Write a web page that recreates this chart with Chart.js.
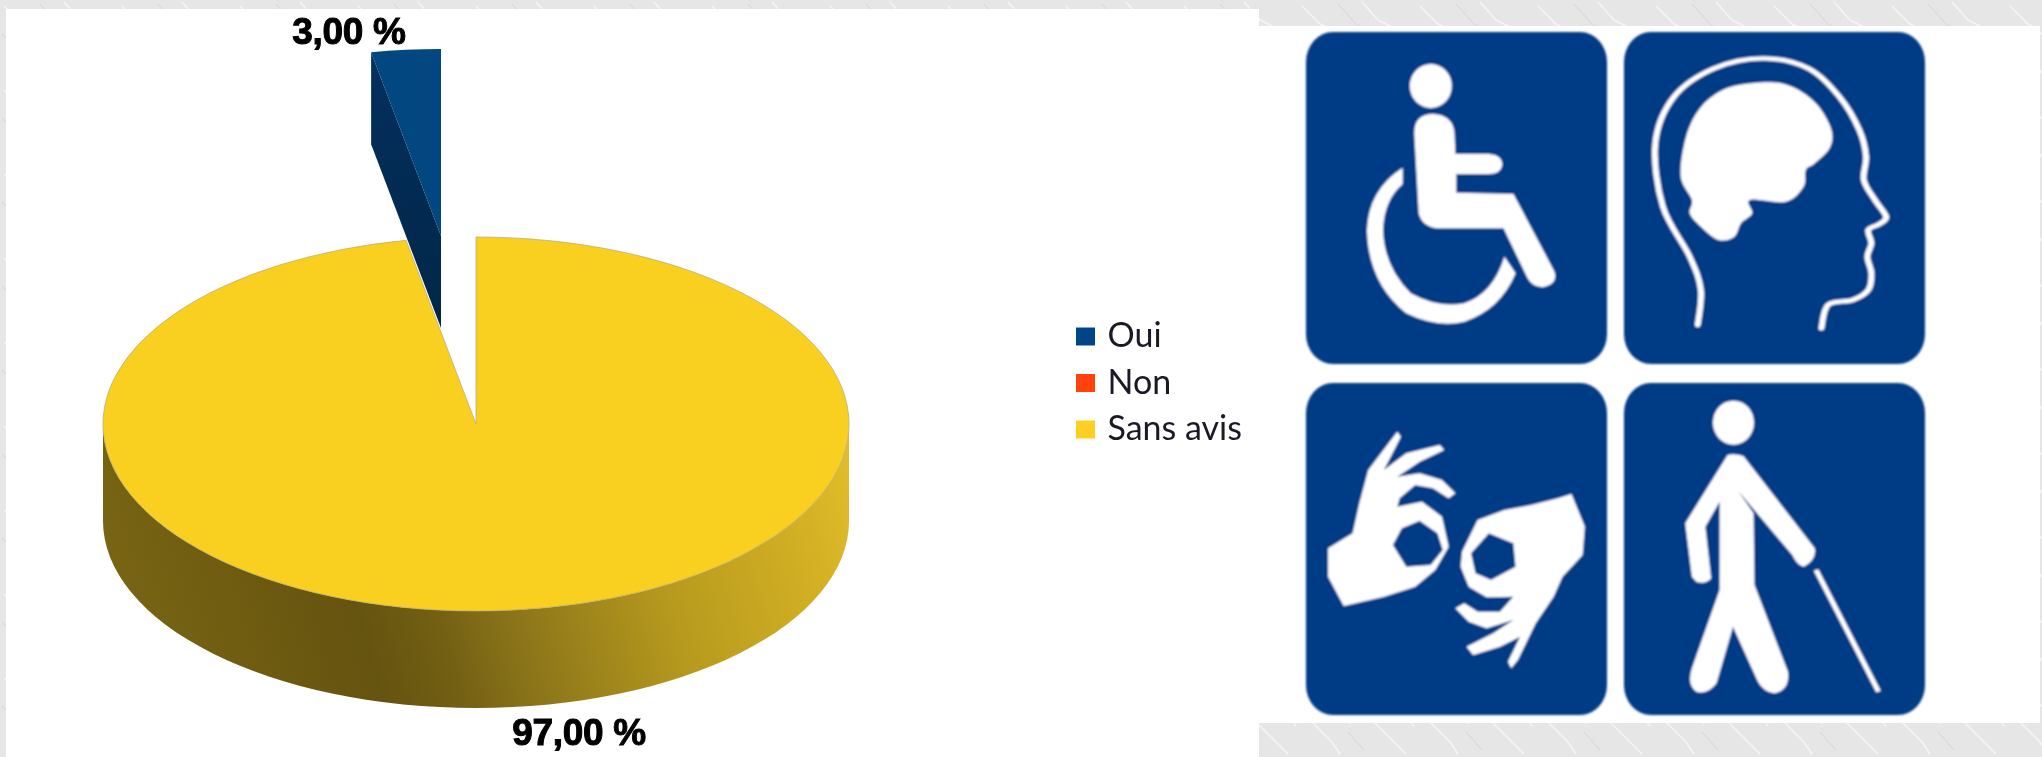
<!DOCTYPE html>
<html><head><meta charset="utf-8">
<script src="https://cdn.jsdelivr.net/npm/chart.js@4"></script>
<style>
html,body{margin:0;padding:0;background:#e6e6e6;overflow:hidden}
#stage{position:relative;width:2042px;height:757px;overflow:hidden}
#stage>*{position:absolute;left:0;top:0}
</style></head><body>
<div id="stage">
<svg id="bg" width="2042" height="757" xmlns="http://www.w3.org/2000/svg">
<defs><pattern id="tex" width="118" height="84" patternUnits="userSpaceOnUse">
<rect width="118" height="84" fill="#e6e6e6"/>
<g fill="none" stroke="#f6f6f6" stroke-width="1.6" opacity=".9">
<path d="M4 6 L22 24 L30 28 L52 52"/><path d="M64 2 L80 20 L92 26 L116 54"/><path d="M14 50 L34 70 L42 82"/><path d="M74 48 L92 66 L108 82"/>
</g>
<g fill="none" stroke="#d8d8d8" stroke-width="1.2" opacity=".8">
<path d="M40 4 L58 24 L68 30"/><path d="M96 34 L110 48"/><path d="M2 34 L18 48"/><path d="M50 60 L66 78"/>
</g></pattern>
<filter id="soft" x="-5%" y="-5%" width="110%" height="110%"><feGaussianBlur stdDeviation="0.8"/></filter></defs>
<rect width="2042" height="757" fill="url(#tex)"/>
<rect x="6" y="9" width="1253" height="748" fill="#fff"/>
<rect x="1259" y="26" width="781" height="697" fill="#fff"/>
<g id="tiles" filter="url(#soft)"></g>
</svg>
<canvas id="c" width="2042" height="757" style="width:2042px;height:757px"></canvas>
</div>
<script>
// ---- chart data ----
const categories = ['Oui', 'Non', 'Sans avis'];
const seriesValues = [3, 0, 97];
const sliceColors = ['#02477f', '#ff420e', '#f9cf20'];
const legendColors = ['#004586', '#ff420e', '#fdcf20'];

// ---- pictograms (decoration) ----
function smooth(p, close){
  let d='M'+p[0][0]+' '+p[0][1];
  const n=p.length, g=i=>close?p[(i+n)%n]:p[Math.max(0,Math.min(n-1,i))];
  for(let i=0;i<(close?n:n-1);i++){
    const a=g(i-1),b=g(i),c=g(i+1),e=g(i+2);
    d+=' C'+(b[0]+(c[0]-a[0])/6)+' '+(b[1]+(c[1]-a[1])/6)+' '+(c[0]-(e[0]-b[0])/6)+' '+(c[1]-(e[1]-b[1])/6)+' '+c[0]+' '+c[1];
  }
  return d+(close?' Z':'');
}
const profile=[[1003,975],[1010,870],[985,770],[925,620],[908,430],[950,290],[1040,205],[1150,175],[1250,205],[1320,290],[1365,390],[1380,470],[1375,540],[1400,600],[1425,650],[1410,672],[1385,690],[1392,730],[1383,770],[1392,820],[1385,870],[1350,900],[1295,915],[1280,985]];
const brain=[[1095,255],[1190,250],[1260,300],[1300,380],[1300,440],[1265,490],[1245,510],[1240,560],[1200,605],[1120,600],[1125,640],[1100,670],[1085,710],[1050,720],[1010,680],[985,640],[990,600],[965,530],[975,420],[1000,340],[1040,285]];
const B='#063a85';
document.getElementById('tiles').innerHTML=`
<rect x="1306" y="32" width="301" height="332" rx="27" ry="30" fill="${B}"/>
<rect x="1624" y="32" width="301" height="332" rx="27" ry="30" fill="${B}"/>
<rect x="1306" y="383" width="301" height="332" rx="27" ry="30" fill="${B}"/>
<rect x="1624" y="383" width="301" height="332" rx="27" ry="30" fill="${B}"/>
<g transform="translate(1250 0) scale(.4464 .3333)" fill="#fff">
<ellipse cx="405" cy="258" rx="47" ry="66"/>
<path d="M368 400 Q368 342 410 342 Q455 345 458 400 L460 462 L535 462 Q565 465 565 495 Q562 522 535 522 L462 522 L462 578 L590 582 L682 815 Q690 850 660 860 Q635 865 622 835 L568 685 L420 685 Q385 680 378 640 Z"/>
<path d="M342 503 L342 552 Q300 600 298 690 Q300 800 360 880 Q420 925 480 910 Q545 880 570 770 L595 820 Q560 930 480 965 Q420 985 350 940 Q265 850 262 690 Q265 570 342 503 Z"/>
<path d="${smooth(profile,false)}" fill="none" stroke="#fff" stroke-width="13" stroke-linecap="round"/>
<path d="${smooth(brain,true)}"/>
</g>
<g transform="translate(1250 370) scale(.4464 .3333)" fill="#fff">
<path fill-rule="evenodd" d="M175 535 L230 490 L245 400 L265 300 L330 185 L338 200 L300 300 L350 250 L425 225 L435 240 L380 275 L330 320 L380 310 L430 330 L460 370 L445 385 L410 355 L370 345 L335 385 L330 410 L385 395 L430 440 L445 530 L415 600 L370 650 L300 680 L210 708 L175 620 Z M380 452 L340 475 L320 525 L350 590 L405 585 L432 540 L420 490 Z"/>
<path fill-rule="evenodd" d="M720 372 L750 470 L745 555 L700 620 L680 680 L640 760 L600 870 L585 895 L578 875 L605 800 L560 830 L500 855 L485 830 L545 790 L590 750 L530 775 L490 755 L460 715 L480 700 L510 725 L560 725 L590 680 L530 682 L490 650 L472 590 L475 545 L510 450 L570 420 L630 405 L690 385 Z M535 490 L495 550 L505 610 L540 630 L595 590 L590 520 Z"/>
<ellipse cx="1083" cy="158" rx="46" ry="66"/>
<path d="M1070 255 Q1085 250 1105 258 L1265 535 Q1270 570 1240 590 Q1225 585 1215 555 L1095 365 L1128 430 L1130 645 L1205 905 Q1210 960 1175 970 Q1150 965 1138 935 L1082 770 L1045 940 Q1025 975 1000 965 Q978 945 990 895 L1052 660 L1052 395 L1020 470 L1033 625 Q1020 645 1000 635 L990 620 L975 460 Z"/>
<path d="M1268 600 L1408 965" stroke="#fff" stroke-width="11" fill="none"/>
</g>`;

// ---- 3D pie plugin: squashes the library's arcs and extrudes them ----
const squash = 0.5013, depth = 97, blueDepth = 92;
const explodeX = -35, explodeY = -375; // how far the Oui slice is pulled out, before squashing
const fmt = v => v.toFixed(2).replace('.', ',') + ' %';
const labelPos = {0: [349, 44], 2: [579, 745]};

const pie3d = {
  id: 'pie3d',
  afterDatasetsUpdate(chart){
    const a = chart.getDatasetMeta(0).data[0];
    a.x += explodeX; a.y += explodeY;
  },
  beforeDraw(chart){
    const l = chart.legend;
    l.left = 1068; l.right = 1262; l.top = 307; l.bottom = 757;
  },
  beforeDatasetsDraw(chart){
    const ctx = chart.ctx, arcs = chart.getDatasetMeta(0).data;
    const big = arcs[2], cx = big.x, cy = big.y, r = big.outerRadius, ry = r * squash;
    // yellow cylinder wall: front half only, so the gap of the pie stays open
    const g = ctx.createLinearGradient(104, 640, 850, 420);
    [[0,'#7a6613'],[.18,'#6f5c11'],[.32,'#655310'],[.42,'#736013'],[.52,'#8d761a'],[.72,'#b89b1e'],[.9,'#d3b024'],[1,'#e2bf2a']]
      .forEach(s => g.addColorStop(s[0], s[1]));
    ctx.save();
    ctx.fillStyle = g;
    ctx.beginPath();
    ctx.ellipse(cx, cy, r, ry, 0, 0, Math.PI, false);
    ctx.ellipse(cx, cy + depth, r, ry, 0, Math.PI, 0, true);
    ctx.closePath();
    ctx.fill();
    // blue cut face below the pulled-out slice
    const a = arcs[0];
    const px = a.x, py = cy + (a.y - cy) * squash;
    const ox = px + Math.cos(a.startAngle) * r, oy = py + Math.sin(a.startAngle) * r * squash;
    const gb = ctx.createLinearGradient(ox, oy, px, py + blueDepth);
    gb.addColorStop(0, '#04305f'); gb.addColorStop(1, '#012647');
    ctx.fillStyle = gb;
    ctx.beginPath();
    ctx.moveTo(ox, oy); ctx.lineTo(ox, oy + blueDepth);
    ctx.lineTo(px, py + blueDepth); ctx.lineTo(px, py);
    ctx.closePath();
    ctx.fill();
    ctx.restore();
    // squash what the library draws next
    ctx.save();
    ctx.translate(0, cy); ctx.scale(1, squash); ctx.translate(0, -cy);
  },
  afterDatasetsDraw(chart){
    const ctx = chart.ctx;
    ctx.restore();
    ctx.save();
    ctx.font = 'bold 37px "Liberation Sans"';
    ctx.letterSpacing = '-0.3px';
    ctx.fillStyle = '#000';
    ctx.strokeStyle = '#000';
    ctx.lineWidth = 1;
    ctx.textAlign = 'center';
    ctx.textBaseline = 'alphabetic';
    seriesValues.forEach((v, i) => {
      if (!labelPos[i]) return;
      ctx.fillText(fmt(v), labelPos[i][0], labelPos[i][1]);
      ctx.strokeText(fmt(v), labelPos[i][0], labelPos[i][1]);
    });
    ctx.restore();
  }
};

new Chart(document.getElementById('c'), {
  type: 'pie',
  data: {
    labels: categories,
    datasets: [{
      data: seriesValues,
      backgroundColor: sliceColors,
      borderColor: ['#02477f', '#ff420e', '#b8ac78'],
      borderWidth: [0, 0, 1],
      clip: false
    }]
  },
  options: {
    responsive: false,
    animation: false,
    events: [],
    rotation: -10.8,
    radius: 373,
    cutout: '0%',
    layout: { padding: { left: 0, right: 1090, top: 91, bottom: 0 } },
    plugins: {
      tooltip: { enabled: false },
      legend: {
        position: 'chartArea',
        align: 'start',
        labels: {
          boxWidth: 10, boxHeight: 9, padding: 12.5,
          color: '#1a1a26',
          font: { family: 'Lato', size: 34 },
          generateLabels(chart){
            return Chart.overrides.pie.plugins.legend.labels.generateLabels(chart).map((it, i) => {
              it.fillStyle = legendColors[i]; it.lineWidth = 9; it.strokeStyle = legendColors[i];
              return it;
            });
          }
        }
      }
    }
  },
  plugins: [pie3d]
});
</script>
</body></html>
